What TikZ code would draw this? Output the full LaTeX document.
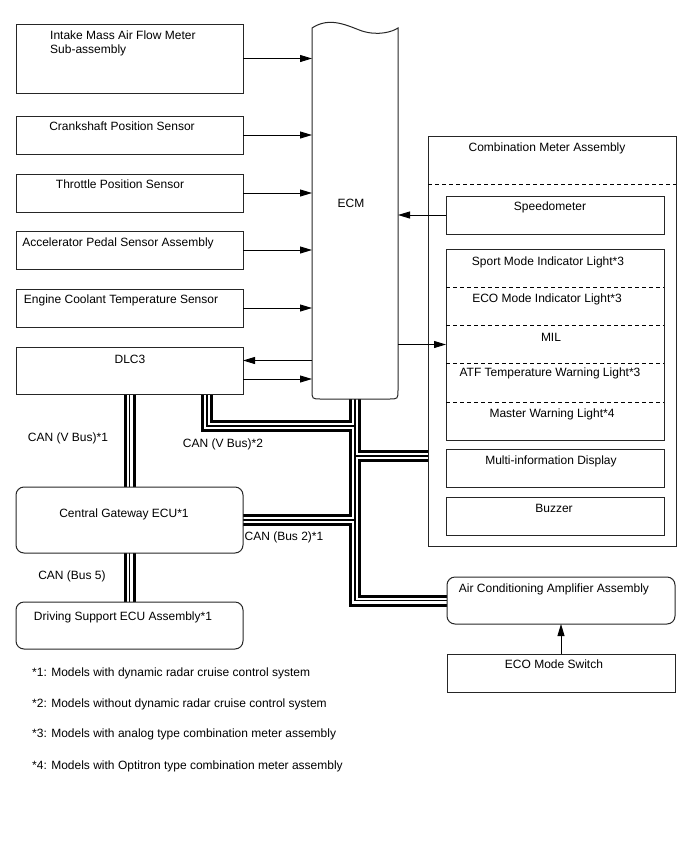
\documentclass[tikz,border=0pt]{standalone}
\usepackage{fontspec}
\setmainfont{Liberation Sans}
\usetikzlibrary{arrows.meta, calc, backgrounds}

\begin{document}
\begin{tikzpicture}[x=1pt, y=-1pt,
  box/.style={rectangle, draw=black!85, line width=1pt, inner sep=0pt, outer sep=0pt, minimum width=227pt},
  rbox/.style={box, rounded corners=8pt},
  txt/.style={font=\fontsize{12}{14}\selectfont, inner sep=0pt, text height=8.6pt, text depth=0pt},
  arrow/.style={-{Triangle[length=12pt, width=7pt]}, line width=0.9pt},
  dashline/.style={line width=0.9pt, dash pattern=on 4pt off 3pt}
]
\useasboundingbox (0,0) rectangle (688,852);

% sensors and DLC3
\node[box, minimum height=69pt] (imf)   at (129.5,58.5)  {};
\node[box, minimum height=38pt] (crank) at (129.5,135)   {};
\node[box, minimum height=38pt] (tps)   at (129.5,193)   {};
\node[box, minimum height=38pt] (app)   at (129.5,250)   {};
\node[box, minimum height=38pt] (ect)   at (129.5,308)   {};
\node[box, minimum height=47pt] (dlc)   at (129.5,370.5) {};
\node[rbox, minimum height=66pt] (cgw)   at (129.5,520)   {};
\node[rbox, minimum height=47pt] (dsecu) at (129.5,625.5) {};

\node[txt, anchor=base west, align=left] (imf-t) at (50,53.3) {Intake Mass Air Flow Meter\\Sub-assembly};
\node[txt] (crank-t) at (122,126) {Crankshaft Position Sensor};
\node[txt] (tps-t)   at (120,184) {Throttle Position Sensor};
\node[txt] (app-t)   at (118,242) {Accelerator Pedal Sensor Assembly};
\node[txt] (ect-t)   at (121,299) {Engine Coolant Temperature Sensor};
\node[txt] (dlc-t)   at (130,359) {DLC3};
\node[txt] (cgw-t)   at (124,513) {Central Gateway ECU*1};
\node[txt] (dsecu-t) at (123,616) {Driving Support ECU Assembly*1};

% ECM
\node[minimum width=86pt, minimum height=371pt, inner sep=0pt, outer sep=0pt] (ecm) at (355,213.5) {};
\draw[line width=1pt, draw=black!85] (ecm.north west)
  .. controls (330,16) and (348,26) .. (362,31)
  .. controls (378,36) and (392,32) .. (ecm.north east)
  -- ($(ecm.south east)+(0,-9)$) .. controls (ecm.south east) .. ($(ecm.south east)+(-9,0)$)
  -- ($(ecm.south west)+(9,0)$) .. controls (ecm.south west) .. ($(ecm.south west)+(0,-9)$)
  -- cycle;
\node[txt] (ecm-t) at (351,203) {ECM};

% combination meter
\node[box, minimum width=248pt, minimum height=410pt] (meter)  at (552,341)   {};
\node[box, minimum width=218pt, minimum height=38pt]  (speedo) at (555,215)   {};
\node[box, minimum width=218pt, minimum height=191pt] (lights) at (555,344.5) {};
\node[box, minimum width=218pt, minimum height=38pt]  (mid)    at (555,468)   {};
\node[box, minimum width=218pt, minimum height=38pt]  (buzzer) at (555,516)   {};
\draw[dashline] (meter.west |- 0,184) -- (meter.east |- 0,184);
\foreach \y in {287,325,363,402}
  \draw[dashline] (446,\y) -- (664,\y);

\node[txt] (meter-t)  at (547,147) {Combination Meter Assembly};
\node[txt] (speedo-t) at (550,206) {Speedometer};
\node[txt] (sport-t)  at (548,261) {Sport Mode Indicator Light*3};
\node[txt] (ecoind-t) at (547,298) {ECO Mode Indicator Light*3};
\node[txt] (mil-t)    at (551,337) {MIL};
\node[txt] (atf-t)    at (550,372) {ATF Temperature Warning Light*3};
\node[txt] (master-t) at (552,413) {Master Warning Light*4};
\node[txt] (mid-t)    at (551,460) {Multi-information Display};
\node[txt] (buzzer-t) at (554,508) {Buzzer};

% air conditioning
\node[rbox, minimum width=228pt, minimum height=47pt] (ac)  at (561,600.5) {};
\node[box, minimum width=228pt, minimum height=38pt]  (eco) at (561,673)   {};
\node[txt] (ac-t)  at (554,588) {Air Conditioning Amplifier Assembly};
\node[txt] (eco-t) at (554,664) {ECO Mode Switch};

% signal lines
\foreach \n in {imf, crank, tps, app, ect}
  \draw[arrow] (\n.east) -- (\n.east -| ecm.west);
\draw[arrow] ([yshift=10pt]dlc.east -| ecm.west) -- ([yshift=10pt]dlc.east);
\draw[arrow] ([yshift=-8.5pt]dlc.east) -- ([yshift=-8.5pt]dlc.east -| ecm.west);
\draw[arrow] (speedo.west) -- (speedo.west -| ecm.east);
\draw[arrow] (lights.west -| ecm.east) -- (lights.west);
\draw[arrow] (eco.north) -- (ac.south);

% CAN buses
\coordinate (vbrow) at (0,426);
\coordinate (cmrow) at (0,456);
\coordinate (dlctap) at ($(dlc.south)+(77.5,0)$);
\begin{scope}[on background layer]
\foreach \w/\c in {12pt/black, 6pt/white, 1.6pt/black}
  \draw[line width=\w, draw=\c]
    (dlc.south) -- (cgw.north)
    (cgw.south) -- (dsecu.north)
    (dlctap) -- (dlctap |- vbrow) -- (ecm.south |- vbrow)
    (ecm.south) -- (ecm.south |- ac.west) -- (ac.west)
    (ecm.south |- cmrow) -- (meter.west |- cmrow)
    (cgw.east) -- (cgw.east -| ecm.south);
\end{scope}

\node[txt] (vbus1-t) at (68,437)  {CAN (V Bus)*1};
\node[txt] (vbus2-t) at (223,443) {CAN (V Bus)*2};
\node[txt] (bus2-t)  at (284,536) {CAN (Bus 2)*1};
\node[txt] (bus5-t)  at (72,575)  {CAN (Bus 5)};

% notes
\node[txt, anchor=west] (note1) at (32,672) {*1: Models with dynamic radar cruise control system};
\node[txt, anchor=west] (note2) at (32,703) {*2: Models without dynamic radar cruise control system};
\node[txt, anchor=west] (note3) at (32,733) {*3: Models with analog type combination meter assembly};
\node[txt, anchor=west] (note4) at (32,765) {*4: Models with Optitron type combination meter assembly};

\end{tikzpicture}
\end{document}
